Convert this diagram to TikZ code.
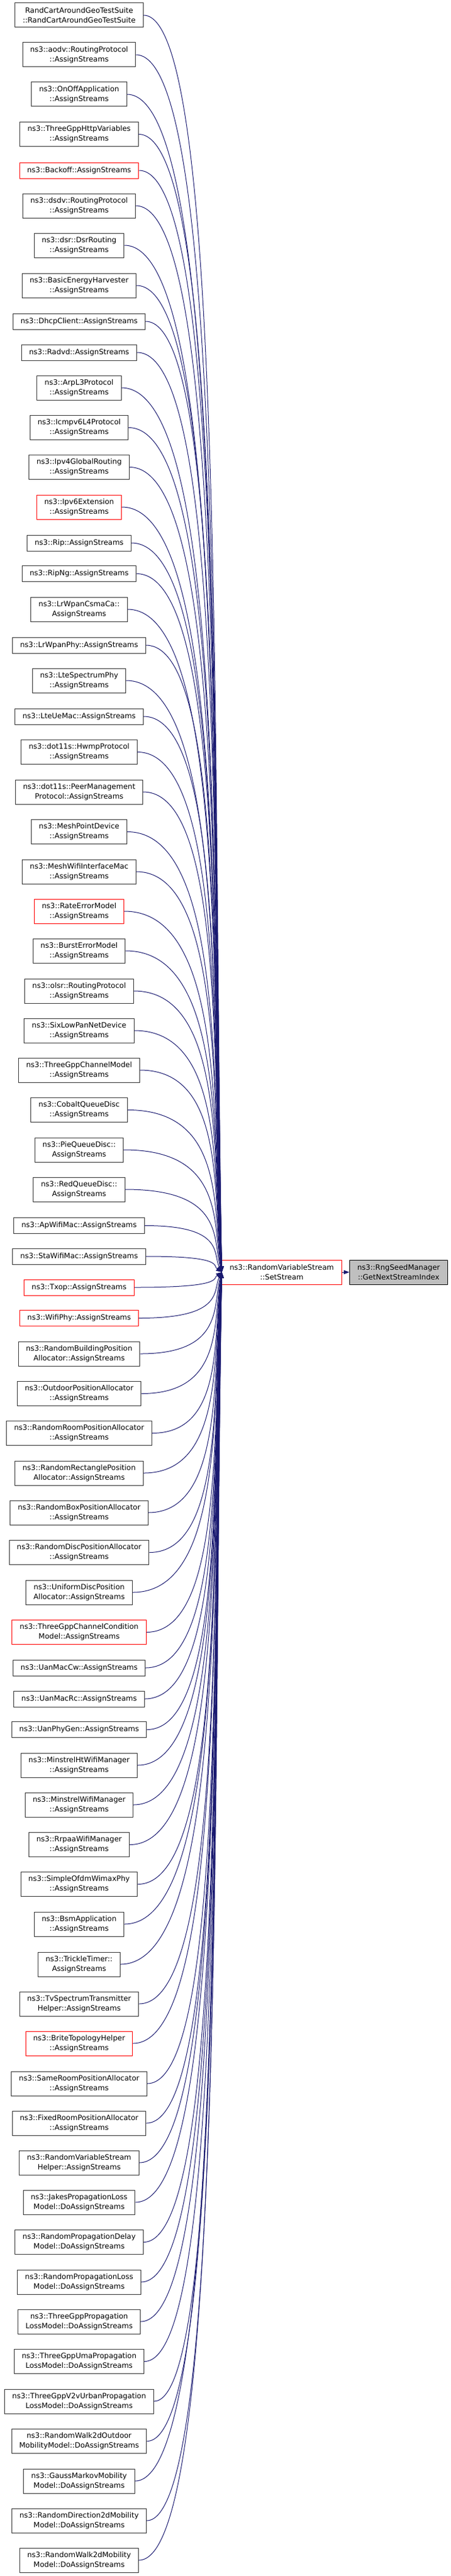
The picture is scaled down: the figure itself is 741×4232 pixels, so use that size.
\documentclass[tikz,border=0pt]{standalone}
\usepackage{fontspec}
\setmainfont{DejaVu Sans}
\usetikzlibrary{arrows.meta,calc}
\definecolor{callblue}{RGB}{25,25,112}
\definecolor{curgray}{RGB}{191,191,191}

\begin{document}
\begin{tikzpicture}[x=0.75pt,y=-0.75pt,
    fn/.style={draw=black!80,line width=0.75pt,fill=white,align=center,
      inner xsep=9.4pt,inner ysep=0pt,minimum height=19.5pt,
      font=\fontsize{9}{11.8}\selectfont},
    two/.style={minimum height=30pt},
    trunc/.style={draw=red},
    cur/.style={fn,two,draw=black,fill=curgray},
    tip/.style={-{Triangle[length=7pt,width=5pt]}},
    call/.style={draw=callblue,line width=0.75pt,tip,
      to path={.. controls ($(\tikztostart -| \tikztotarget)+(5,0)$)
        and ($(\tikztotarget)!0.4!(\tikztotarget |- \tikztostart)+(-15,0)$) .. (\tikztotarget)}}]
    \useasboundingbox (0,0) rectangle (741,4232);

    % Callee and function
    \node[fn,two,trunc] (setstream) at (463,2090) {ns3::RandomVariableStream\\::SetStream};
    \node[cur] (getnext) at (655,2090) {ns3::RngSeedManager\\::GetNextStreamIndex};
    \draw[draw=callblue,line width=0.75pt,tip] (setstream.east) -- (getnext.west);

    % Callers
    \node[fn,two] (randcart) at (130,25) {RandCartAroundGeoTestSuite\\::RandCartAroundGeoTestSuite};
    \node[fn,two] (aodv) at (130,90) {ns3::aodv::RoutingProtocol\\::AssignStreams};
    \node[fn,two] (onoff) at (130,155) {ns3::OnOffApplication\\::AssignStreams};
    \node[fn,two] (httpvar) at (130,220.5) {ns3::ThreeGppHttpVariables\\::AssignStreams};
    \node[fn,trunc] (backoff) at (130,280) {ns3::Backoff::AssignStreams};
    \node[fn,two] (dsdv) at (130,338) {ns3::dsdv::RoutingProtocol\\::AssignStreams};
    \node[fn,two] (dsr) at (130,403) {ns3::dsr::DsrRouting\\::AssignStreams};
    \node[fn,two] (harvester) at (130,469) {ns3::BasicEnergyHarvester\\::AssignStreams};
    \node[fn] (dhcp) at (130,528) {ns3::DhcpClient::AssignStreams};
    \node[fn] (radvd) at (130,579) {ns3::Radvd::AssignStreams};
    \node[fn,two] (arp) at (130,637) {ns3::ArpL3Protocol\\::AssignStreams};
    \node[fn,two] (icmpv6) at (130,702.5) {ns3::Icmpv6L4Protocol\\::AssignStreams};
    \node[fn,two] (ipv4gr) at (130,767.5) {ns3::Ipv4GlobalRouting\\::AssignStreams};
    \node[fn,two,trunc] (ipv6ext) at (130,833) {ns3::Ipv6Extension\\::AssignStreams};
    \node[fn] (rip) at (130,892) {ns3::Rip::AssignStreams};
    \node[fn] (ripng) at (130,942.5) {ns3::RipNg::AssignStreams};
    \node[fn,two] (csmaca) at (130,1001) {ns3::LrWpanCsmaCa::\\AssignStreams};
    \node[fn] (lrphy) at (130,1060) {ns3::LrWpanPhy::AssignStreams};
    \node[fn,two] (ltephy) at (130,1118) {ns3::LteSpectrumPhy\\::AssignStreams};
    \node[fn] (uemac) at (130,1177) {ns3::LteUeMac::AssignStreams};
    \node[fn,two] (hwmp) at (130,1235.5) {ns3::dot11s::HwmpProtocol\\::AssignStreams};
    \node[fn,two] (peerman) at (130,1301) {ns3::dot11s::PeerManagement\\Protocol::AssignStreams};
    \node[fn,two] (meshpt) at (130,1366.5) {ns3::MeshPointDevice\\::AssignStreams};
    \node[fn,two] (meshmac) at (130,1432) {ns3::MeshWifiInterfaceMac\\::AssignStreams};
    \node[fn,two,trunc] (rateerr) at (130,1497) {ns3::RateErrorModel\\::AssignStreams};
    \node[fn,two] (bursterr) at (130,1562) {ns3::BurstErrorModel\\::AssignStreams};
    \node[fn,two] (olsr) at (130,1628) {ns3::olsr::RoutingProtocol\\::AssignStreams};
    \node[fn,two] (sixlowpan) at (130,1693) {ns3::SixLowPanNetDevice\\::AssignStreams};
    \node[fn,two] (chanmodel) at (130,1758) {ns3::ThreeGppChannelModel\\::AssignStreams};
    \node[fn,two] (cobalt) at (130,1823.5) {ns3::CobaltQueueDisc\\::AssignStreams};
    \node[fn,two] (pie) at (130,1889) {ns3::PieQueueDisc::\\AssignStreams};
    \node[fn,two] (redq) at (130,1954) {ns3::RedQueueDisc::\\AssignStreams};
    \node[fn] (apmac) at (130,2013.5) {ns3::ApWifiMac::AssignStreams};
    \node[fn] (stamac) at (130,2064) {ns3::StaWifiMac::AssignStreams};
    \node[fn,trunc] (txop) at (130,2115) {ns3::Txop::AssignStreams};
    \node[fn,trunc] (wifiphy) at (130,2165.5) {ns3::WifiPhy::AssignStreams};
    \node[fn,two] (buildpos) at (130,2224) {ns3::RandomBuildingPosition\\Allocator::AssignStreams};
    \node[fn,two] (outdoorpos) at (130,2289.5) {ns3::OutdoorPositionAllocator\\::AssignStreams};
    \node[fn,two] (roompos) at (130,2354.5) {ns3::RandomRoomPositionAllocator\\::AssignStreams};
    \node[fn,two] (rectpos) at (130,2420) {ns3::RandomRectanglePosition\\Allocator::AssignStreams};
    \node[fn,two] (boxpos) at (130,2485) {ns3::RandomBoxPositionAllocator\\::AssignStreams};
    \node[fn,two] (discpos) at (130,2550.5) {ns3::RandomDiscPositionAllocator\\::AssignStreams};
    \node[fn,two] (unidisc) at (130,2616) {ns3::UniformDiscPosition\\Allocator::AssignStreams};
    \node[fn,two,trunc] (chancond) at (130,2681.5) {ns3::ThreeGppChannelCondition\\Model::AssignStreams};
    \node[fn] (uancw) at (130,2740) {ns3::UanMacCw::AssignStreams};
    \node[fn] (uanrc) at (130,2791) {ns3::UanMacRc::AssignStreams};
    \node[fn] (uanphy) at (130,2841.5) {ns3::UanPhyGen::AssignStreams};
    \node[fn,two] (minstht) at (130,2900) {ns3::MinstrelHtWifiManager\\::AssignStreams};
    \node[fn,two] (minst) at (130,2965) {ns3::MinstrelWifiManager\\::AssignStreams};
    \node[fn,two] (rrpaa) at (130,3030.5) {ns3::RrpaaWifiManager\\::AssignStreams};
    \node[fn,two] (ofdm) at (130,3095.5) {ns3::SimpleOfdmWimaxPhy\\::AssignStreams};
    \node[fn,two] (bsm) at (130,3161) {ns3::BsmApplication\\::AssignStreams};
    \node[fn,two] (trickle) at (130,3227) {ns3::TrickleTimer::\\AssignStreams};
    \node[fn,two] (tvtx) at (130,3292) {ns3::TvSpectrumTransmitter\\Helper::AssignStreams};
    \node[fn,two,trunc] (brite) at (130,3357) {ns3::BriteTopologyHelper\\::AssignStreams};
    \node[fn,two] (sameroom) at (130,3423) {ns3::SameRoomPositionAllocator\\::AssignStreams};
    \node[fn,two] (fixedroom) at (130,3488) {ns3::FixedRoomPositionAllocator\\::AssignStreams};
    \node[fn,two] (rvshelper) at (130,3553) {ns3::RandomVariableStream\\Helper::AssignStreams};
    \node[fn,two] (jakes) at (130,3618) {ns3::JakesPropagationLoss\\Model::DoAssignStreams};
    \node[fn,two] (propdelay) at (130,3683.5) {ns3::RandomPropagationDelay\\Model::DoAssignStreams};
    \node[fn,two] (proploss) at (130,3749) {ns3::RandomPropagationLoss\\Model::DoAssignStreams};
    \node[fn,two] (gppprop) at (130,3814) {ns3::ThreeGppPropagation\\LossModel::DoAssignStreams};
    \node[fn,two] (gppuma) at (130,3879.5) {ns3::ThreeGppUmaPropagation\\LossModel::DoAssignStreams};
    \node[fn,two] (gppv2v) at (130,3945) {ns3::ThreeGppV2vUrbanPropagation\\LossModel::DoAssignStreams};
    \node[fn,two] (walkout) at (130,4010.5) {ns3::RandomWalk2dOutdoor\\MobilityModel::DoAssignStreams};
    \node[fn,two] (gauss) at (130,4076) {ns3::GaussMarkovMobility\\Model::DoAssignStreams};
    \node[fn,two] (direction) at (130,4141) {ns3::RandomDirection2dMobility\\Model::DoAssignStreams};
    \node[fn,two] (walk) at (130,4206) {ns3::RandomWalk2dMobility\\Model::DoAssignStreams};

    % Calls into SetStream
    \draw[call] (randcart.east) to (setstream.west);
    \draw[call] (aodv.east) to (setstream.west);
    \draw[call] (onoff.east) to (setstream.west);
    \draw[call] (httpvar.east) to (setstream.west);
    \draw[call] (backoff.east) to (setstream.west);
    \draw[call] (dsdv.east) to (setstream.west);
    \draw[call] (dsr.east) to (setstream.west);
    \draw[call] (harvester.east) to (setstream.west);
    \draw[call] (dhcp.east) to (setstream.west);
    \draw[call] (radvd.east) to (setstream.west);
    \draw[call] (arp.east) to (setstream.west);
    \draw[call] (icmpv6.east) to (setstream.west);
    \draw[call] (ipv4gr.east) to (setstream.west);
    \draw[call] (ipv6ext.east) to (setstream.west);
    \draw[call] (rip.east) to (setstream.west);
    \draw[call] (ripng.east) to (setstream.west);
    \draw[call] (csmaca.east) to (setstream.west);
    \draw[call] (lrphy.east) to (setstream.west);
    \draw[call] (ltephy.east) to (setstream.west);
    \draw[call] (uemac.east) to (setstream.west);
    \draw[call] (hwmp.east) to (setstream.west);
    \draw[call] (peerman.east) to (setstream.west);
    \draw[call] (meshpt.east) to (setstream.west);
    \draw[call] (meshmac.east) to (setstream.west);
    \draw[call] (rateerr.east) to (setstream.west);
    \draw[call] (bursterr.east) to (setstream.west);
    \draw[call] (olsr.east) to (setstream.west);
    \draw[call] (sixlowpan.east) to (setstream.west);
    \draw[call] (chanmodel.east) to (setstream.west);
    \draw[call] (cobalt.east) to (setstream.west);
    \draw[call] (pie.east) to (setstream.west);
    \draw[call] (redq.east) to (setstream.west);
    \draw[call] (apmac.east) to (setstream.west);
    \draw[call] (stamac.east) to (setstream.west);
    \draw[call] (txop.east) to (setstream.west);
    \draw[call] (wifiphy.east) to (setstream.west);
    \draw[call] (buildpos.east) to (setstream.west);
    \draw[call] (outdoorpos.east) to (setstream.west);
    \draw[call] (roompos.east) to (setstream.west);
    \draw[call] (rectpos.east) to (setstream.west);
    \draw[call] (boxpos.east) to (setstream.west);
    \draw[call] (discpos.east) to (setstream.west);
    \draw[call] (unidisc.east) to (setstream.west);
    \draw[call] (chancond.east) to (setstream.west);
    \draw[call] (uancw.east) to (setstream.west);
    \draw[call] (uanrc.east) to (setstream.west);
    \draw[call] (uanphy.east) to (setstream.west);
    \draw[call] (minstht.east) to (setstream.west);
    \draw[call] (minst.east) to (setstream.west);
    \draw[call] (rrpaa.east) to (setstream.west);
    \draw[call] (ofdm.east) to (setstream.west);
    \draw[call] (bsm.east) to (setstream.west);
    \draw[call] (trickle.east) to (setstream.west);
    \draw[call] (tvtx.east) to (setstream.west);
    \draw[call] (brite.east) to (setstream.west);
    \draw[call] (sameroom.east) to (setstream.west);
    \draw[call] (fixedroom.east) to (setstream.west);
    \draw[call] (rvshelper.east) to (setstream.west);
    \draw[call] (jakes.east) to (setstream.west);
    \draw[call] (propdelay.east) to (setstream.west);
    \draw[call] (proploss.east) to (setstream.west);
    \draw[call] (gppprop.east) to (setstream.west);
    \draw[call] (gppuma.east) to (setstream.west);
    \draw[call] (gppv2v.east) to (setstream.west);
    \draw[call] (walkout.east) to (setstream.west);
    \draw[call] (gauss.east) to (setstream.west);
    \draw[call] (direction.east) to (setstream.west);
    \draw[call] (walk.east) to (setstream.west);

\end{tikzpicture}
\end{document}
